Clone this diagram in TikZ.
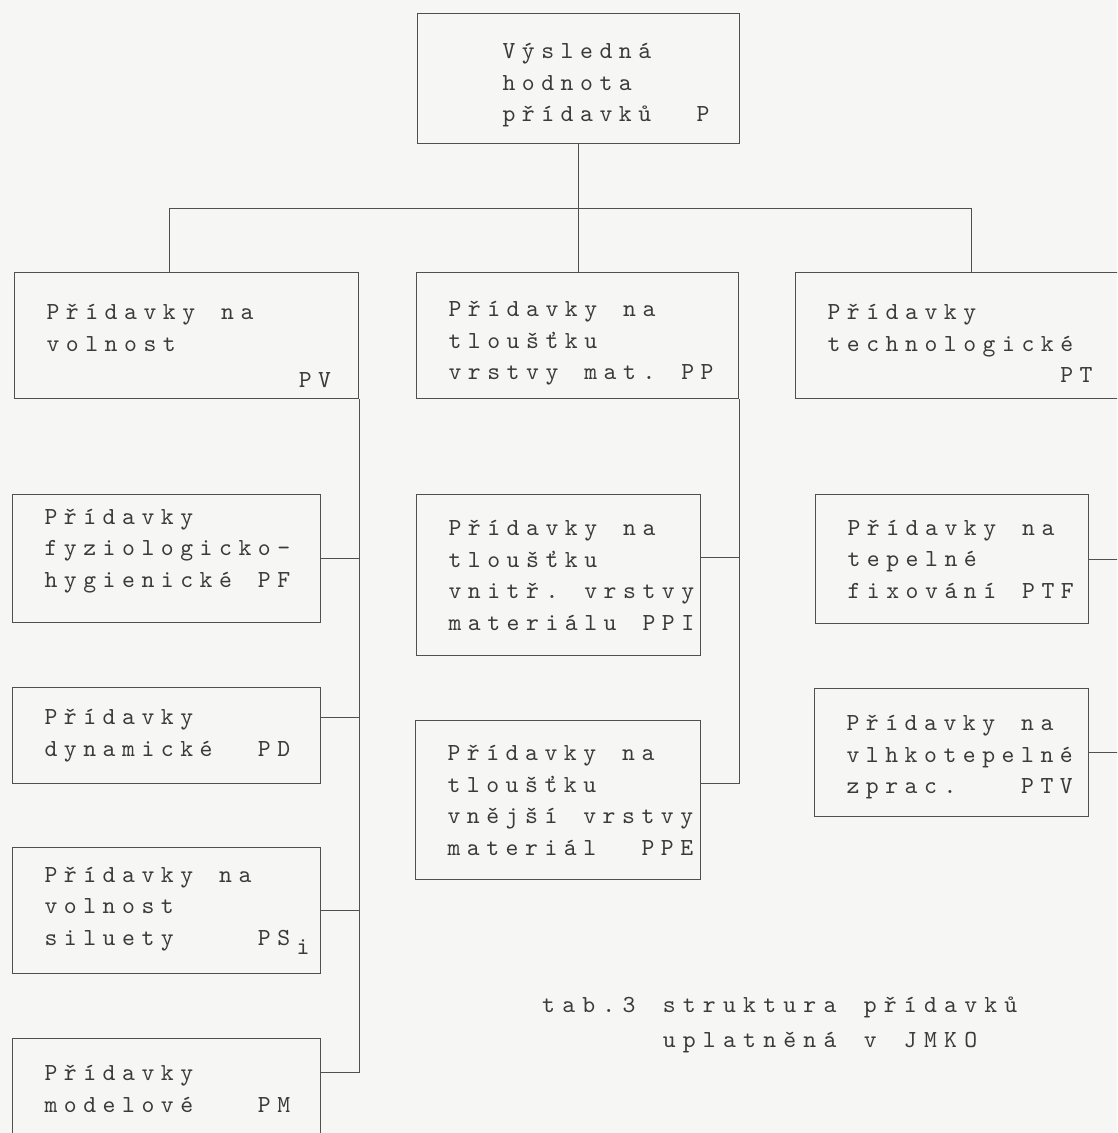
\documentclass[tikz,border=0pt]{standalone}
\usepackage{fontspec}
\usepackage{xcolor}
\newfontfamily\typew{lmmono10-regular.otf}
\definecolor{paper}{RGB}{246,246,244}
\definecolor{ink}{RGB}{58,58,58}
\definecolor{rule}{RGB}{80,80,80}

\ExplSyntaxOn
\dim_new:N \g_tw_pitch_dim
\cs_new_protected:Npn \__tw_char:n #1
  {
    \str_if_eq:eeTF {#1} { \c_tilde_str }
      { \hspace*{\g_tw_pitch_dim} }
      {
        \str_if_eq:nnTF {#1} { | }
          { \\ }
          { \makebox [ \g_tw_pitch_dim ] [l] {#1} }
      }
  }
\NewDocumentCommand \tw { O{19.4pt} m }
  {
    \dim_gset:Nn \g_tw_pitch_dim {#1}
    \str_map_function:nN {#2} \__tw_char:n
  }
\ExplSyntaxOff

\begin{document}
\begin{tikzpicture}[x=1pt, y=-1pt,
   every node/.style={font=\typew\fontsize{24.5}{31.5}\selectfont, text=ink},
   box/.style 2 args={draw=rule, line width=1.1pt, anchor=north west, align=left,
      inner xsep=32pt, inner ysep=0pt, text width=\dimexpr#1pt-64pt\relax, minimum height=#2pt},
   link/.style={draw=rule, line width=1.1pt}]
\clip (0,0) rectangle (1117,1133);
\fill[paper] (0,0) rectangle (1117,1133);

\node[box={322}{130}, inner xsep=85pt, text width=152pt] (p) at (417,13) {\rule{0pt}{29pt}\tw{Výsledná|hodnota|přídavků~~P}};

\node[box={344}{126}] (pv) at (14,272) {\rule{0pt}{37pt}\tw{Přídavky~na|volnost}\\[5pt]\tw{~~~~~~~~~~~~~PV}};
\node[box={322}{126}] (pp) at (416,272) {\rule{0pt}{31pt}\tw{Přídavky~na|tloušťku|vrstvy~mat.~PP}};
\node[box={327}{126}] (pt) at (795,272) {\rule{0pt}{31pt}\tw{Přídavky|technologické|~~~~~~~~~~~~PT}};

\node[box={308}{128}] (pf) at (12,494) {\tw{Přídavky|fyziologicko-|hygienické~PF}\rule[-21pt]{0pt}{1pt}};
\node[box={308}{96}] (pd) at (12,687) {\tw{Přídavky|dynamické~~PD}};
\node[box={308}{126}] (ps) at (12,847) {\tw{Přídavky~na|volnost|siluety~~~~PS}\raisebox{-9pt}{\tw{i}}};
\node[box={308}{100}] (pm) at (12,1038) {\tw{Přídavky|modelové~~~PM}};

\node[box={284}{161}] (ppi) at (416,494) {\tw{Přídavky~na|tloušťku|vnitř.~vrstvy|materiálu~PPI}};
\node[box={285}{159}] (ppe) at (415,720) {\tw{Přídavky~na|tloušťku|vnější~vrstvy|materiál~~PPE}};

\node[box={273}{129}] (ptf) at (815,494) {\tw{Přídavky~na|tepelné|fixování~PTF}};
\node[box={274}{128}] (ptv) at (814,688) {\rule{0pt}{25pt}\tw{Přídavky~na|vlhkotepelné|zprac.~~~PTV}};

\node[anchor=base west, align=left, inner sep=0pt, font=\typew\fontsize{24.5}{35}\selectfont] (cap)
   at (542,1047) {\tw[20.1pt]{tab.3~struktura~přídavků|~~~~~~uplatněná~v~JMKO}};

\draw[link] (p.south) -- (p.south |- pp.north);
\draw[link] ([xshift=-17pt]pv.north) |- ([yshift=-64pt]p.south) -| ([xshift=12pt]pt.north);

\draw[link] (pv.south east) |- ([yshift=16pt]pm.east);
\foreach \n/\dy in {pf/0, pd/18, ps/0}
   \draw[link] ([yshift=\dy pt]\n.east) -- ++(38,0);

\draw[link] (pp.south east) |- ([yshift=17pt]ppe.east);
\draw[link] ([yshift=18pt]ppi.east) -- ++(38,0);

\draw[link] (pt.south east) |- (ptv.east);
\draw[link] (ptf.east) -- ++(34,0);
\end{tikzpicture}
\end{document}
